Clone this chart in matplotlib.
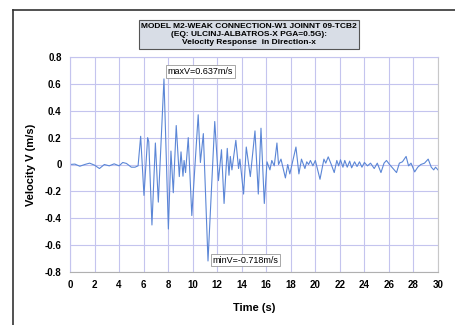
import matplotlib
matplotlib.use('Agg')
import numpy as np
import matplotlib.pyplot as plt
from matplotlib.lines import Line2D

# velocity record (time s, velocity m/s)
t = [0.0, 0.4, 0.8, 1.2, 1.6, 2.0, 2.4, 2.8, 3.2, 3.6, 4.0, 4.3, 4.6, 5.0, 5.3, 5.55,
     5.76, 6.03, 6.33, 6.42, 6.68, 6.96, 7.2, 7.66, 8.02, 8.23, 8.42, 8.66, 8.91, 9.05,
     9.21, 9.3, 9.42, 9.64, 9.93, 10.45, 10.63, 10.87, 11.25, 11.8, 12.1, 12.35, 12.56,
     12.82, 12.96, 13.07, 13.2, 13.52, 13.74, 13.85, 14.15, 14.37, 14.7, 15.08, 15.35,
     15.57, 15.84, 16.06, 16.3, 16.45, 16.65, 16.87, 17.0, 17.2, 17.56, 17.75, 17.92,
     18.42, 18.66, 18.87, 19.15, 19.3, 19.45, 19.6, 19.8, 20.0, 20.38, 20.7, 20.85,
     21.05, 21.3, 21.54, 21.75, 21.9, 22.05, 22.25, 22.4, 22.6, 22.8, 22.96, 23.2,
     23.4, 23.6, 23.8, 24.0, 24.25, 24.5, 24.8, 25.05, 25.35, 25.6, 25.8, 26.05,
     26.62, 26.85, 27.1, 27.4, 27.6, 27.8, 28.1, 28.35, 28.6, 28.9, 29.2, 29.45,
     29.65, 29.8, 30.0]
v = [0.0, 0.003, -0.013, 0.0, 0.01, -0.005, -0.03, 0.0, -0.01, 0.005, -0.01, 0.015,
     0.008, -0.02, -0.02, -0.01,
     0.21, -0.23, 0.20, 0.17, -0.45, 0.16, -0.28, 0.637, -0.48, 0.10, -0.21, 0.29, -0.09,
     0.094, -0.087, 0.03, -0.06, 0.20, -0.38, 0.37, 0.015, 0.23, -0.718, 0.32, -0.12,
     0.11, -0.29, 0.12, -0.08, 0.06, -0.04, 0.18, -0.03, 0.04, -0.22, 0.13, -0.09, 0.25,
     -0.22, 0.27, -0.29, 0.02, -0.04, 0.03, -0.01, 0.16, 0.0, 0.04, -0.10, 0.0, -0.07,
     0.13, -0.07, 0.04, -0.03, 0.02, 0.0, 0.03, -0.01, 0.03, -0.11, 0.04, 0.01,
     0.057, 0.0, -0.06, 0.03, -0.01, 0.035, -0.02, 0.03, -0.02, 0.025, -0.025, 0.02,
     -0.015, 0.02, -0.02, 0.015, -0.01, 0.01, -0.03, 0.01, -0.06, 0.01, 0.03, 0.0,
     -0.06, 0.01, 0.02, 0.06, -0.01, 0.01, -0.055, -0.02, 0.0, 0.01, 0.04, -0.02,
     -0.04, -0.02, -0.04]

x_ticks = np.arange(0, 31, 2)
y_ticks = [-0.8, -0.6, -0.4, -0.2, 0, 0.2, 0.4, 0.6, 0.8]
y_labels = ['-0.8', '-0.6', '-0.4', '-0.2', '0', '0.2', '0.4', '0.6', '0.8']

plt.rcParams['font.family'] = ['Liberation Sans', 'DejaVu Sans']

fig = plt.figure(figsize=(4.55, 3.25), dpi=100)
ax = fig.add_axes([70/455, 1 - 272/325, 368/455, 215/325])

ax.plot(t, v, color='#5b86d6', lw=0.8)
ax.set_xlim(0, 30)
ax.set_ylim(-0.8, 0.8)
ax.set_xticks(x_ticks)
ax.set_yticks(y_ticks)
ax.set_yticklabels(y_labels)
ax.grid(True, color='#c4c4ee', lw=0.8)
for s in ax.spines.values():
    s.set_color('#c4c4ee')
    s.set_linewidth(0.8)
ax.spines['bottom'].set_color('#b0b0b0')
ax.spines['right'].set_color('#c8c8c8')
ax.tick_params(length=0, labelsize=7, pad=6)
for lb in ax.get_xticklabels() + ax.get_yticklabels():
    lb.set_fontweight('bold')
ax.set_xlabel('Time (s)', fontsize=8, fontweight='bold', labelpad=9)
ax.set_ylabel('Velocity V (m/s)', fontsize=8, fontweight='bold', labelpad=6)

# title box
fig.text(249/455, 1 - 34.5/325,
         'MODEL M2-WEAK CONNECTION-W1 JOINNT 09-TCB2\n(EQ: ULCINJ-ALBATROS-X PGA=0.5G):\nVelocity Response  in Direction-x',
         ha='center', va='center', fontsize=6.0, fontweight='bold', linespacing=1.3,
         bbox=dict(boxstyle='square,pad=0.3', fc='#d8dde6', ec='#555555', lw=0.8))

# max / min labels
imax = int(np.argmax(v))
imin = int(np.argmin(v))
ax.annotate('maxV=%.3fm/s' % v[imax], xy=(t[imax], v[imax]), xytext=(10.6, 0.69),
            ha='center', va='center', fontsize=6.5,
            bbox=dict(boxstyle='square,pad=0.2', fc='white', ec='#999999', lw=0.6))
ax.annotate('minV=%.3fm/s' % v[imin], xy=(t[imin], v[imin]), xytext=(14.3, -0.712),
            ha='center', va='center', fontsize=6.5,
            bbox=dict(boxstyle='square,pad=0.2', fc='white', ec='#999999', lw=0.6))

# outer frame
fig.add_artist(Line2D([13/455, 13/455], [0, 1 - 10/325], color='#333333', lw=1.2))
fig.add_artist(Line2D([13/455, 1], [1 - 10/325, 1 - 10/325], color='#333333', lw=1.2))

fig.savefig('out.png', dpi=100)
